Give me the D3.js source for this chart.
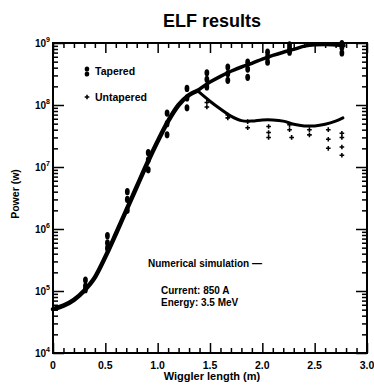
<!DOCTYPE html>
<html><head><meta charset="utf-8">
<script src="https://cdn.jsdelivr.net/npm/d3@7"></script>
<style>
html,body{margin:0;padding:0;background:#fff;}
svg{display:block;font-family:"Liberation Sans",Arial,Helvetica,sans-serif;font-weight:bold;}
</style></head>
<body>
<svg id="c" width="374" height="387"></svg>
<script>
// ---- data ----
const title = "ELF results";
const xLabel = "Wiggler length (m)";
const yLabel = "Power (w)";
const xTickLabels = ["0", "0.5", "1.0", "1.5", "2.0", "2.5", "3.0"];
const xTickValues = [0, 0.5, 1.0, 1.5, 2.0, 2.5, 3.0];
const yDecades = [1e4, 1e5, 1e6, 1e7, 1e8, 1e9];
const yExponents = ["4", "5", "6", "7", "8", "9"];

// common part of the simulation curve (before split)
const commonX = [0, 0.1, 0.2, 0.3, 0.4, 0.5, 0.6, 0.7, 0.8, 0.9, 1.0, 1.1, 1.2, 1.3, 1.38];
const commonP = [5.1e4, 5.8e4, 7.2e4, 1.02e5, 1.66e5, 3.55e5, 8.3e5, 2.0e6, 4.8e6, 1.15e7, 2.6e7, 5.5e7, 1.0e8, 1.45e8, 1.7e8];
// tapered simulation branch
const taperedX = [1.38, 1.5, 1.6, 1.7, 1.8, 1.9, 2.0, 2.1, 2.2, 2.3, 2.4, 2.5, 2.6, 2.7, 2.78];
const taperedP = [1.7e8, 2.34e8, 2.9e8, 3.5e8, 4.1e8, 4.7e8, 5.5e8, 6.3e8, 7.1e8, 7.9e8, 8.9e8, 9.4e8, 9.5e8, 9.3e8, 9.1e8];
// untapered simulation branch
const untaperedX = [1.38, 1.5, 1.6, 1.7, 1.8, 1.9, 2.0, 2.1, 2.2, 2.3, 2.4, 2.5, 2.6, 2.7, 2.77];
const untaperedP = [1.7e8, 1.15e8, 8.6e7, 6.6e7, 5.6e7, 5.5e7, 5.75e7, 5.75e7, 5.5e7, 4.9e7, 4.6e7, 4.6e7, 4.9e7, 5.5e7, 6.2e7];

// measured points
const tapPtX = [0.31,0.31,0.31, 0.52,0.52,0.52, 0.71,0.71,0.71, 0.91,0.91,0.91, 1.09,1.09,1.09, 1.28,1.28,1.28,
                1.47,1.47,1.47, 1.67,1.67,1.67, 1.86,1.86,1.86, 2.05,2.05,2.05, 2.26,2.26,2.26, 2.76,2.76,2.76];
const tapPtP = [1.5e5,1.2e5,1.05e5, 7.8e5,6.0e5,4.9e5, 4.0e6,3.0e6,2.0e6, 1.7e7,1.3e7,9.0e6, 7.4e7,5.0e7,3.3e7, 1.85e8,1.3e8,9.0e7,
                3.3e8,2.6e8,1.95e8, 4.1e8,3.2e8,2.5e8, 4.9e8,3.8e8,2.8e8, 7.1e8,6.0e8,4.9e8, 9.3e8,8.1e8,7.1e8, 9.8e8,8.5e8,6.9e8];
const untPtX = [1.47,1.47, 1.67,1.67, 1.86,1.86, 2.06,2.06,2.06, 2.26,2.26,2.28, 2.45,2.45, 2.63,2.63,2.63, 2.76,2.76,2.76,2.76];
const untPtP = [1.1e8,9.3e7, 6.9e7,6.2e7, 5.4e7,4.3e7, 4.5e7,3.6e7,3.0e7, 4.8e7,4.0e7,3.0e7, 4.0e7,3.3e7, 4.0e7,2.8e7,2.0e7, 3.5e7,3.0e7,2.1e7,1.55e7];

const legendLabels = ["Tapered", "Untapered"];
const noteLines = ["Numerical simulation \u2014", "Current:  850 A", "Energy:  3.5 MeV"];

// ---- layout ----
const svg = d3.select("#c");
const L = 53, R = 367, T = 43, B = 353;
const x = d3.scaleLinear().domain([0, 3]).range([L, R]);
const y = d3.scaleLog().domain([1e4, 1e9]).range([B, T]);

// tick sets
const xMinor = d3.range(1, 30).map(i => i / 10).filter(v => Math.abs(v * 2 - Math.round(v * 2)) > 1e-6);
const yMinor = [];
yDecades.slice(0, -1).forEach(d => { for (let k = 2; k <= 9; k++) yMinor.push(d * k); });

// inward ticks via d3 axes
function styleAxis(g) {
  g.select(".domain").remove();
  g.selectAll(".tick line").attr("stroke", "#000").attr("stroke-width", 1.5);
  g.selectAll(".tick text").remove();
}
const axes = svg.append("g");
axes.append("g").attr("transform", `translate(0,${B})`).call(d3.axisBottom(x).tickValues(xMinor).tickSize(-5)).call(styleAxis);
axes.append("g").attr("transform", `translate(0,${B})`).call(d3.axisBottom(x).tickValues(xTickValues).tickSize(-10)).call(styleAxis);
axes.append("g").attr("transform", `translate(0,${T})`).call(d3.axisTop(x).tickValues(xMinor).tickSize(-5)).call(styleAxis);
axes.append("g").attr("transform", `translate(0,${T})`).call(d3.axisTop(x).tickValues(xTickValues).tickSize(-10)).call(styleAxis);
axes.append("g").attr("transform", `translate(${L},0)`).call(d3.axisLeft(y).tickValues(yMinor).tickSize(-5)).call(styleAxis);
axes.append("g").attr("transform", `translate(${L},0)`).call(d3.axisLeft(y).tickValues(yDecades).tickSize(-11)).call(styleAxis);
axes.append("g").attr("transform", `translate(${R},0)`).call(d3.axisRight(y).tickValues(yMinor).tickSize(-5)).call(styleAxis);
axes.append("g").attr("transform", `translate(${R},0)`).call(d3.axisRight(y).tickValues(yDecades).tickSize(-11)).call(styleAxis);

svg.append("rect").attr("x", L).attr("y", T).attr("width", R - L).attr("height", B - T)
  .attr("fill", "none").attr("stroke", "#000").attr("stroke-width", 2);

// title
svg.append("text").attr("x", 212).attr("y", 27).attr("text-anchor", "middle")
  .attr("font-size", 18).text(title);

// tick labels
svg.append("g").selectAll("text").data(xTickValues).join("text")
  .attr("x", d => x(d)).attr("y", B + 16).attr("text-anchor", "middle").attr("font-size", 10.5)
  .text((d, i) => xTickLabels[i]);
const yt = svg.append("g").selectAll("text").data(yDecades).join("text")
  .attr("x", L - 3).attr("y", d => y(d) + 4).attr("text-anchor", "end").attr("font-size", 10);
yt.append("tspan").text("10");
yt.append("tspan").attr("font-size", 7).attr("dy", -5).text((d, i) => yExponents[i]);

// axis labels
svg.append("text").attr("x", 212).attr("y", 380).attr("text-anchor", "middle")
  .attr("font-size", 11).text(xLabel);
svg.append("text").attr("transform", "translate(19,194) rotate(-90)").attr("text-anchor", "middle")
  .attr("font-size", 10.5).text(yLabel);

// curves
const zip = (a, b) => a.map((v, i) => [v, b[i]]);
const lineGen = d3.line().x(d => x(d[0])).y(d => y(d[1]));
svg.append("path").attr("d", lineGen.curve(d3.curveMonotoneX)(zip(commonX, commonP)))
  .attr("fill", "none").attr("stroke", "#000").attr("stroke-width", 4.5).attr("stroke-linecap", "round");
svg.append("path").attr("d", lineGen.curve(d3.curveMonotoneX)(zip(taperedX, taperedP)))
  .attr("fill", "none").attr("stroke", "#000").attr("stroke-width", 3.5).attr("stroke-linecap", "round");
svg.append("path").attr("d", lineGen.curve(d3.curveCatmullRom.alpha(0.5))(zip(untaperedX, untaperedP)))
  .attr("fill", "none").attr("stroke", "#000").attr("stroke-width", 3).attr("stroke-linecap", "round");

// points
svg.append("g").selectAll("ellipse").data(zip(tapPtX, tapPtP)).join("ellipse")
  .attr("cx", d => x(d[0])).attr("cy", d => y(d[1])).attr("rx", 2.4).attr("ry", 3.6).attr("fill", "#000");
const cross = d3.symbol().type(d3.symbolCross).size(12);
svg.append("g").selectAll("path").data(zip(untPtX, untPtP)).join("path")
  .attr("transform", d => `translate(${x(d[0])},${y(d[1])})`).attr("d", cross).attr("fill", "#000");

// legend
const lg = svg.append("g");
lg.append("ellipse").attr("cx", 87).attr("cy", 69).attr("rx", 2.3).attr("ry", 2.6).attr("fill", "#000");
lg.append("ellipse").attr("cx", 87).attr("cy", 74).attr("rx", 2.3).attr("ry", 2.6).attr("fill", "#000");
lg.append("text").attr("x", 95).attr("y", 75).attr("font-size", 10.5).text(legendLabels[0]);
lg.append("path").attr("transform", "translate(87,97)").attr("d", cross).attr("fill", "#000");
lg.append("text").attr("x", 95).attr("y", 101).attr("font-size", 10.5).text(legendLabels[1]);

// note
svg.append("text").attr("x", 148).attr("y", 267).attr("font-size", 10).text(noteLines[0]);
svg.append("text").attr("x", 161).attr("y", 294).attr("font-size", 10).text(noteLines[1]);
svg.append("text").attr("x", 161).attr("y", 306).attr("font-size", 10).text(noteLines[2]);
</script>
</body></html>
